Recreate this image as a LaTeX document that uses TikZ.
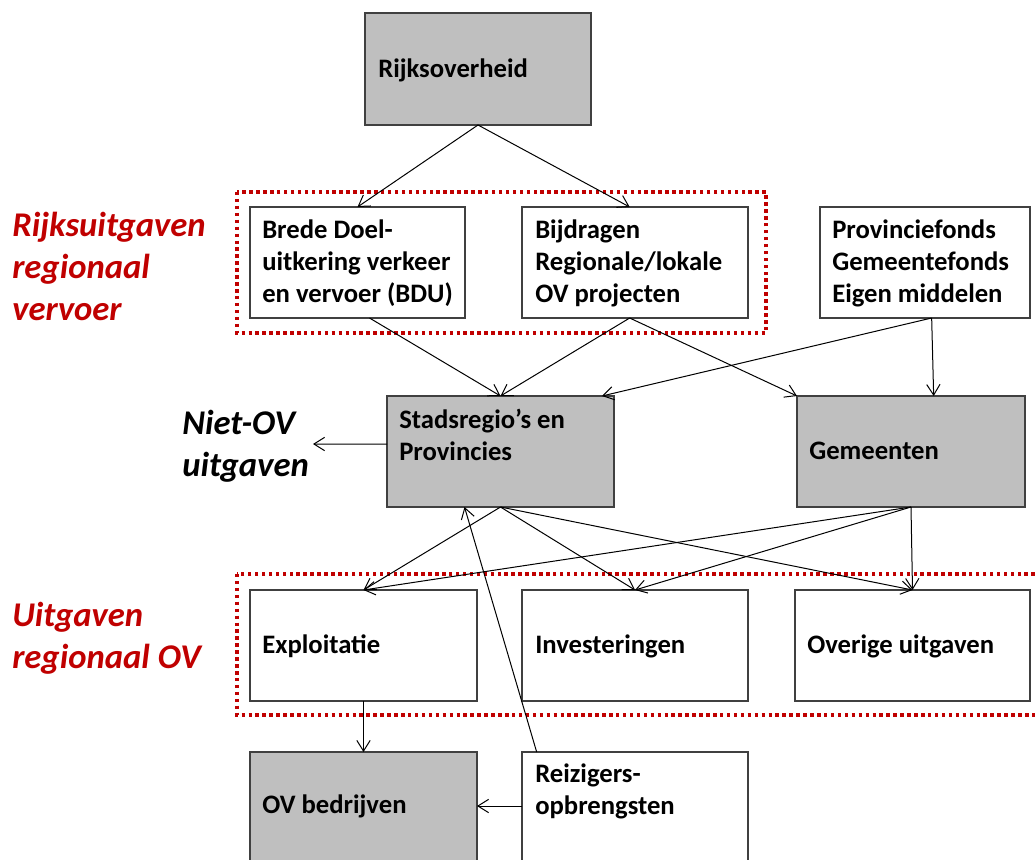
\documentclass[tikz,border=0pt]{standalone}
\usepackage{fontspec}
\setmainfont{Carlito}
\usetikzlibrary{arrows.meta}
\definecolor{boxgray}{RGB}{191,191,191}
\definecolor{darkred}{RGB}{192,0,0}
\definecolor{edgegray}{RGB}{64,64,64}
\tikzset{
  pbox/.style={draw=edgegray, line width=1pt, inner sep=0pt, outer sep=0pt, fill=white},
  gbox/.style={pbox, fill=boxgray},
  txt/.style={font=\bfseries\fontsize{20}{24}\selectfont, align=left, inner sep=0pt, anchor=west},
  side/.style={font=\bfseries\itshape\fontsize{26}{31.5}\selectfont, align=left, inner sep=0pt, anchor=west},
  arr/.style={draw=black, line width=0.75pt, -{Straight Barb[length=8pt,width=10pt]}},
  reddot/.style={draw=darkred, line width=2.6pt, dash pattern=on 2.6pt off 2.6pt}
}
\begin{document}
\begin{tikzpicture}[x=0.75pt,y=-0.75pt]
\useasboundingbox (0,0) rectangle (1035,860);
\clip (0,0) rectangle (1035,860);
\fill[white] (0,0) rectangle (1035,860);

% dotted groups
\draw[reddot] (237,192) rectangle (766,333);
\draw[reddot] (237,574) rectangle (1060,715);

% boxes
\node[gbox, minimum width=169.5pt, minimum height=84pt] (rijk) at (478,69) {};
\node[pbox, minimum width=161.25pt, minimum height=83.25pt] (bdu) at (357.5,262.5) {};
\node[pbox, minimum width=169.5pt, minimum height=83.25pt] (bij) at (635,262.5) {};
\node[pbox, minimum width=157.5pt, minimum height=83.25pt] (prov) at (925,262.5) {};
\node[gbox, minimum width=170.25pt, minimum height=83.25pt] (stad) at (500.5,451.5) {};
\node[gbox, minimum width=171pt, minimum height=83.25pt] (gem) at (911,451.5) {};
\node[pbox, minimum width=170.25pt, minimum height=83.25pt] (expl) at (363.5,645.5) {};
\node[pbox, minimum width=169.5pt, minimum height=83.25pt] (inv) at (635,645.5) {};
\node[pbox, minimum width=176.25pt, minimum height=83.25pt] (over) at (912.5,645.5) {};
\node[gbox, minimum width=170.25pt, minimum height=88.5pt] (ovb) at (363.5,811) {};
\node[pbox, minimum width=169.5pt, minimum height=88.5pt] (reiz) at (635,811) {};

% box texts
\node[txt] (trijk) at (378,70) {Rijksoverheid};
\node[txt] (tbdu) at (262,263) {Brede Doel-\\uitkering verkeer\\en vervoer (BDU)};
\node[txt] (tbij) at (535,263) {Bijdragen\\Regionale/lokale\\OV projecten};
\node[txt] (tprov) at (832,263) {Provinciefonds\\Gemeentefonds\\Eigen middelen};
\node[txt] (tstad) at (399,435) {Stadsregio’s en\\Provincies};
\node[txt] (tgem) at (809,451) {Gemeenten};
\node[txt] (texpl) at (262,646) {Exploitatie};
\node[txt] (tinv) at (535,646) {Investeringen};
\node[txt] (tover) at (807,646) {Overige uitgaven};
\node[txt] (tovb) at (262,806) {OV bedrijven};
\node[txt] (treiz) at (535,791) {Reizigers-\\opbrengsten};

% side labels
\node[side, text=darkred] (lrijk) at (12,266) {Rijksuitgaven\\regionaal\\vervoer};
\node[side, text=black] (lniet) at (182,446) {Niet-OV\\uitgaven};
\node[side, text=darkred] (luitg) at (12,638) {Uitgaven\\regionaal OV};

% connectors
\draw[arr] (rijk.south) -- (bdu.north);
\draw[arr] (rijk.south) -- ([xshift=-4pt]bij.north);
\draw[arr] ([xshift=9pt]bdu.south) -- (stad.north);
\draw[arr] ([xshift=-4pt]bij.south) -- (stad.north);
\draw[arr] ([xshift=-4pt]bij.south) -- (gem.north west);
\draw[arr] ([xshift=5pt]prov.south) -- ([xshift=-9pt]stad.north east);
\draw[arr] ([xshift=5pt]prov.south) -- ([xshift=17pt]gem.north);
\coordinate (nov) at (313,444);
\draw[arr] ([yshift=5.6pt]stad.west) -- (nov);
\draw[arr] (stad.south) -- (expl.north);
\draw[arr] (stad.south) -- (inv.north);
\draw[arr] (stad.south) -- (over.north);
\draw[arr] (gem.south) -- (expl.north);
\draw[arr] (gem.south) -- (inv.north);
\draw[arr] (gem.south) -- (over.north);
\draw[arr] (expl.south) -- (ovb.north);
\draw[arr] ([yshift=3.75pt]reiz.west) -- ([yshift=3.75pt]ovb.east);
\draw[arr] ([xshift=11pt]reiz.north west) -- ([xshift=-27pt]stad.south);
\end{tikzpicture}
\end{document}
